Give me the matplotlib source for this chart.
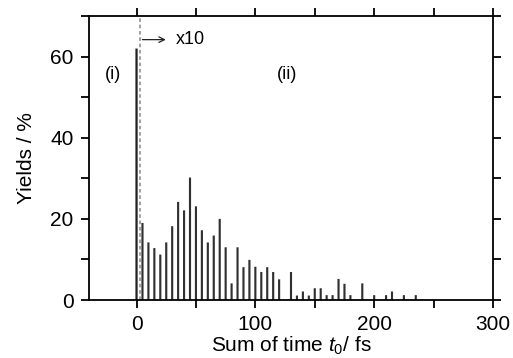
import numpy as np
import matplotlib
matplotlib.use('Agg')
import matplotlib.pyplot as plt

plt.rcParams['font.family'] = ['Liberation Sans', 'DejaVu Sans']
plt.rcParams['mathtext.fontset'] = 'custom'
plt.rcParams['mathtext.rm'] = 'Liberation Sans'
plt.rcParams['mathtext.it'] = 'Liberation Sans:italic'

# region (i): t0 = 0
t_zero = [0]
yield_zero = [62.0]

# region (ii): shown x10
t_sum = [5, 10, 15, 20, 25, 30, 35, 40, 45, 50, 55, 60, 65, 70,
         75, 80, 85, 90, 95, 100, 105, 110, 115, 120, 130, 135, 140,
         145, 150, 155, 160, 165, 170, 175, 180, 190, 200, 210, 215,
         225, 235]
yields = [19.0, 14.2, 12.8, 11.2, 14.2, 18.2, 24.2, 22.1, 30.2, 23.1,
          17.2, 14.2, 15.9, 20.0, 13.0, 4.1, 13.0, 8.1, 9.9, 8.2,
          6.9, 8.1, 6.9, 5.1, 6.9, 1.1, 2.1, 1.1, 2.9, 2.9,
          1.2, 1.2, 5.2, 4.0, 1.2, 4.1, 1.2, 1.2, 2.1, 1.2, 1.2]

fig = plt.figure(figsize=(5.13, 3.58), dpi=100)
ax = fig.add_axes([0.1735, 0.162, 0.7875, 0.793])

ax.bar(t_zero, yield_zero, width=1.9, color='#222222', snap=False)
ax.bar(t_sum, yields, width=1.8, color='#303030', snap=False)

# divider between (i) and (ii)
ax.axvline(2.6, color='#9a9a9a', ls=(0, (2, 1.5)), lw=1.3)
ax.annotate('', xy=(27, 64.2), xytext=(2.6, 64.2),
            arrowprops=dict(arrowstyle='->', color='#222222', lw=0.9))
ax.text(33, 64.2, 'x10', fontsize=13, va='center', ha='left')
ax.text(-20, 55.5, '(i)', fontsize=13, va='center', ha='center')
ax.text(127, 55.5, '(ii)', fontsize=13, va='center', ha='center')

ax.set_xlim(-40, 300)
ax.set_ylim(0, 70)
ax.set_xticks([0, 100, 200, 300])
ax.set_xticks([50, 150, 250], minor=True)
ax.set_yticks([0, 20, 40, 60])
ax.set_yticks([10, 30, 50, 70], minor=True)
ax.tick_params(which='both', direction='out', length=6, width=1.3,
               top=True, right=True, labelsize=15, pad=5)
for s in ax.spines.values():
    s.set_linewidth(1.3)

ax.set_xlabel('Sum of time $\\mathit{t}_0$/ fs', fontsize=15, labelpad=0)
ax.set_ylabel('Yields / %', fontsize=15, labelpad=10)

fig.savefig('out.png', dpi=100)
